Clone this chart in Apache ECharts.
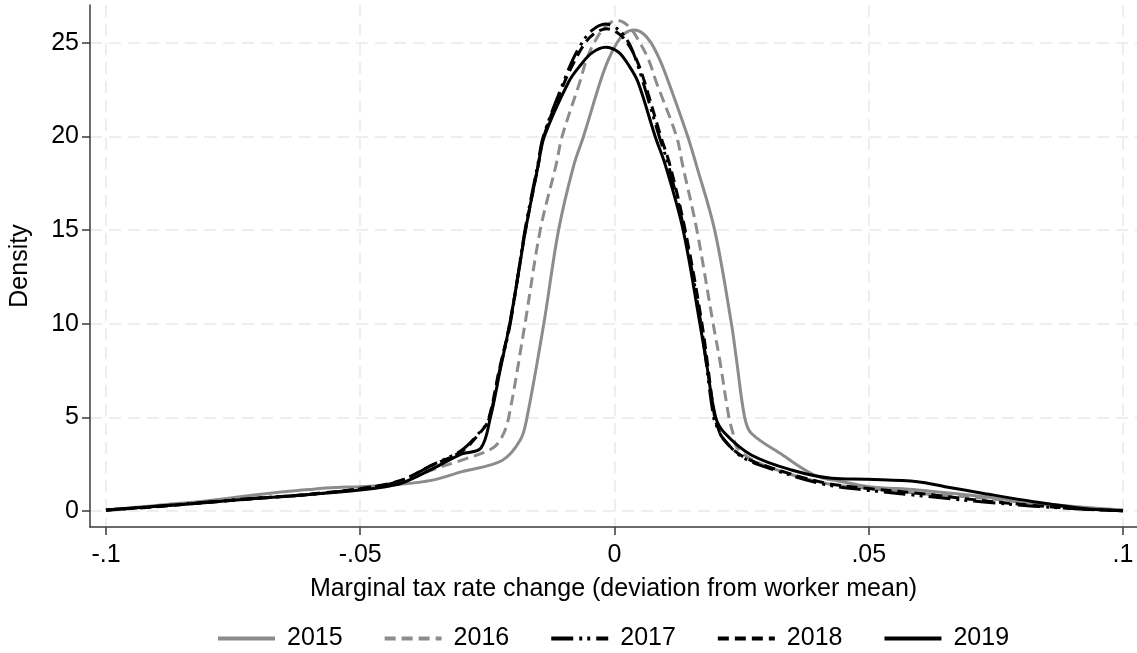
<!DOCTYPE html>
<html>
<head>
<meta charset="utf-8">
<script src="https://cdn.jsdelivr.net/npm/echarts@6/dist/echarts.min.js"></script>
<style>
html,body{margin:0;padding:0;background:#fff;}
#c{width:1137px;height:653px;}
</style>
</head>
<body>
<div id="c"></div>
<script>
// ---- data ----
const years = ['2015', '2016', '2017', '2018', '2019'];
const xTicks = [-0.1, -0.05, 0, 0.05, 0.1];
const yTicks = [0, 5, 10, 15, 20, 25];

const x2015 = [-0.1, -0.09, -0.08, -0.07, -0.065, -0.06, -0.055, -0.05, -0.0424, -0.0358, -0.03, -0.0221, -0.0185, -0.0172, -0.0139, -0.011, -0.008, -0.0061, -0.0028, -0.0012, 0.0005, 0.002, 0.0039, 0.0056, 0.0072, 0.0089, 0.0106, 0.0144, 0.0161, 0.0197, 0.023, 0.024, 0.0256, 0.0269, 0.033, 0.0393, 0.045, 0.05, 0.0596, 0.0726, 0.0824, 0.0922, 0.1];
const y2015 = [0.05, 0.3, 0.55, 0.88, 1.03, 1.15, 1.25, 1.3, 1.42, 1.65, 2.1, 2.7, 3.8, 5.0, 10, 15, 18.47, 20, 22.92, 24.1, 25.0, 25.5, 25.68, 25.5, 25.0, 24.1, 22.92, 20, 18.47, 15, 10, 8.06, 5, 4.15, 3.0, 1.92, 1.55, 1.3, 1.12, 0.76, 0.44, 0.2, 0.05];

const x2016 = [-0.1, -0.09, -0.08, -0.07, -0.06, -0.05, -0.0424, -0.0358, -0.03, -0.024, -0.0221, -0.0208, -0.0176, -0.0146, -0.0115, -0.0103, -0.0068, -0.0055, -0.004, -0.0019, 0.0005, 0.0029, 0.005, 0.0067, 0.0082, 0.0122, 0.0134, 0.0162, 0.0194, 0.0207, 0.0225, 0.0233, 0.024, 0.027, 0.033, 0.042, 0.05, 0.0596, 0.0726, 0.0824, 0.0922, 0.1];
const y2016 = [0.05, 0.25, 0.48, 0.68, 0.88, 1.15, 1.5, 2.2, 2.72, 3.35, 3.97, 5.0, 10, 15, 18.47, 20, 22.92, 24.1, 25.0, 25.85, 26.2, 25.85, 25.0, 24.1, 22.92, 20, 18.47, 15, 10, 8.06, 5, 4.15, 3.43, 2.75, 2.1, 1.45, 1.21, 0.95, 0.68, 0.4, 0.15, 0.03];

const x2017 = [-0.1, -0.09, -0.08, -0.07, -0.06, -0.05, -0.0424, -0.0358, -0.03, -0.0267, -0.0247, -0.0226, -0.0205, -0.0176, -0.0151, -0.014, -0.01, -0.0082, -0.0064, -0.0045, -0.0018, 0.0008, 0.0028, 0.0042, 0.0056, 0.0088, 0.0106, 0.0137, 0.017, 0.0195, 0.0205, 0.0211, 0.025, 0.0315, 0.0413, 0.05, 0.0596, 0.0726, 0.0824, 0.0922, 0.1];
const y2017 = [0.05, 0.25, 0.48, 0.7, 0.88, 1.18, 1.58, 2.46, 3.26, 4.15, 4.9, 7.5, 10, 15, 18.47, 20, 22.92, 24.1, 25.0, 25.65, 26.0, 25.7, 25.0, 24.1, 22.92, 20, 18.47, 15, 10, 5, 4.3, 3.97, 2.9, 2.19, 1.42, 1.1, 0.83, 0.48, 0.26, 0.1, 0.02];

const x2018 = [-0.1, -0.09, -0.08, -0.07, -0.06, -0.05, -0.0424, -0.0358, -0.03, -0.0267, -0.0249, -0.0227, -0.0206, -0.0175, -0.015, -0.0139, -0.0098, -0.0079, -0.006, -0.0042, -0.0015, 0.001, 0.003, 0.0045, 0.0059, 0.0091, 0.0109, 0.0139, 0.0172, 0.0197, 0.0203, 0.0212, 0.025, 0.0315, 0.0413, 0.05, 0.0596, 0.0726, 0.0824, 0.0922, 0.1];
const y2018 = [0.04, 0.23, 0.46, 0.68, 0.9, 1.2, 1.6, 2.45, 3.2, 4.1, 4.8, 7.5, 10, 15, 18.47, 20, 22.92, 24.0, 24.9, 25.45, 25.75, 25.45, 24.8, 24.0, 22.92, 20, 18.47, 15, 10, 5, 4.5, 3.9, 2.95, 2.25, 1.5, 1.2, 0.95, 0.55, 0.3, 0.1, 0.02];

const x2019 = [-0.1, -0.09, -0.08, -0.07, -0.06, -0.05, -0.045, -0.0417, -0.0358, -0.03, -0.0263, -0.0244, -0.0225, -0.0206, -0.019, -0.0175, -0.015, -0.0138, -0.009, -0.0067, -0.0045, -0.0018, 0.0008, 0.0028, 0.0046, 0.008, 0.01, 0.0135, 0.0168, 0.018, 0.0199, 0.0217, 0.0269, 0.0348, 0.0427, 0.0498, 0.0596, 0.065, 0.0726, 0.0824, 0.0922, 0.1];
const y2019 = [0.05, 0.25, 0.46, 0.68, 0.88, 1.12, 1.3, 1.5, 2.25, 3.05, 3.35, 5.0, 7.5, 10, 12.5, 15, 18.47, 20, 22.92, 23.8, 24.45, 24.76, 24.5, 23.8, 22.92, 20, 18.47, 15, 10, 8.06, 5, 4.15, 2.99, 2.19, 1.75, 1.69, 1.56, 1.3, 0.94, 0.5, 0.14, 0.02];

// ---- rendering ----
const FONT = '"Liberation Sans", Arial, sans-serif';
const FS = 25;
const GREY = '#8c8c8c';
const BLACK = '#000000';
const AXIS = '#3a3a3a';

function zip(xs, ys) { return xs.map((x, i) => [x, ys[i]]); }
function fmtX(v) {
  if (Math.abs(v) < 1e-12) return '0';
  const s = String(Math.abs(+v.toFixed(4))).replace(/^0/, '');
  return (v < 0 ? '-' : '') + s;
}

const seriesDefs = [
  { name: years[0], xs: x2015, ys: y2015, color: GREY,  type: 'solid' },
  { name: years[1], xs: x2016, ys: y2016, color: GREY,  type: [11, 6] },
  { name: years[2], xs: x2017, ys: y2017, color: BLACK, type: [22, 6, 3, 5, 3, 6] },
  { name: years[3], xs: x2018, ys: y2018, color: BLACK, type: [11, 6] },
  { name: years[4], xs: x2019, ys: y2019, color: BLACK, type: 'solid' }
];

const chart = echarts.init(document.getElementById('c'), null, { renderer: 'canvas' });
const option = {
  animation: false,
  backgroundColor: '#ffffff',
  textStyle: { fontFamily: FONT },
  grid: { left: 87, right: 0, top: 5, bottom: 126, containLabel: false },
  xAxis: {
    type: 'value',
    min: -0.10314,
    max: 0.10275,
    name: 'Marginal tax rate change (deviation from worker mean)',
    nameLocation: 'middle',
    nameGap: 50,
    nameTextStyle: { fontSize: FS, color: '#000', fontFamily: FONT },
    axisLine: { show: true, onZero: false, lineStyle: { color: AXIS, width: 1.5 } },
    axisTick: { show: true, length: 8, customValues: xTicks, lineStyle: { color: AXIS, width: 1.5 } },
    axisLabel: { customValues: xTicks, formatter: fmtX, fontSize: FS, color: '#000', margin: 16, fontFamily: FONT },
    splitLine: { show: true, lineStyle: { color: '#e9e9e9', type: [12, 7], width: 1.5 } }
  },
  yAxis: {
    type: 'value',
    min: -0.854,
    max: 27.02,
    name: 'Density',
    nameLocation: 'middle',
    nameGap: 57,
    nameRotate: 90,
    nameTextStyle: { fontSize: FS, color: '#000', fontFamily: FONT },
    axisLine: { show: true, onZero: false, lineStyle: { color: AXIS, width: 1.5 } },
    axisTick: { show: true, length: 8, customValues: yTicks, lineStyle: { color: AXIS, width: 1.5 } },
    axisLabel: { customValues: yTicks, fontSize: FS, color: '#000', margin: 11, fontFamily: FONT },
    splitLine: { show: true, lineStyle: { color: '#e9e9e9', type: [12, 7], width: 1.5 } }
  },
  legend: {
    left: 216,
    top: 626,
    padding: 0,
    orient: 'horizontal',
    itemWidth: 57,
    itemHeight: 14,
    itemGap: 40,
    itemStyle: { opacity: 0 },
    lineStyle: { width: 4 },
    textStyle: { fontSize: FS, color: '#000', fontFamily: FONT, padding: [0, 0, 0, 7] },
    data: years
  },
  series: seriesDefs.map(d => ({
    name: d.name,
    type: 'line',
    data: zip(d.xs, d.ys),
    showSymbol: false,
    symbol: 'none',
    smooth: 0.35,
    clip: true,
    lineStyle: { color: d.color, width: 3, type: d.type, cap: 'butt', join: 'round' },
    itemStyle: { color: d.color }
  }))
};
chart.setOption(option);
</script>
</body>
</html>
